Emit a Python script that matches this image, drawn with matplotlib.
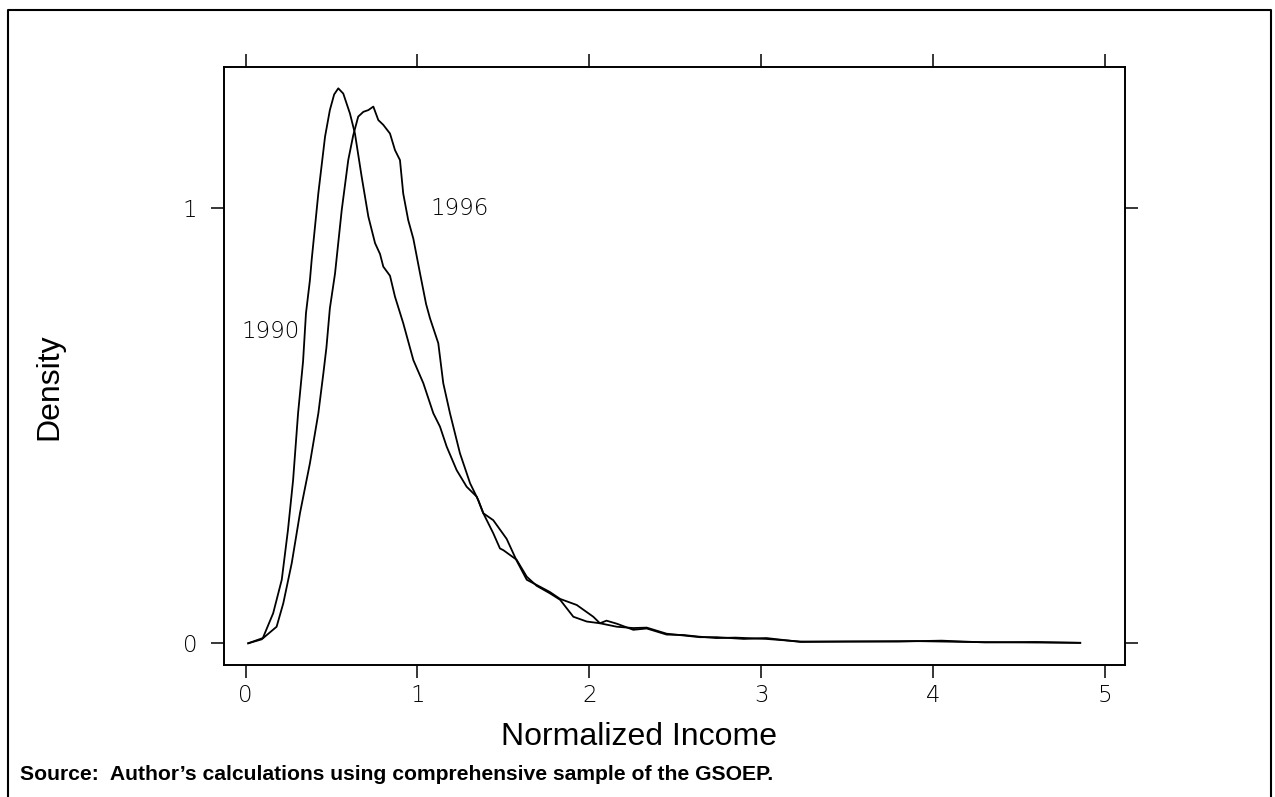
import matplotlib
matplotlib.use('Agg')
import matplotlib.pyplot as plt
from matplotlib.lines import Line2D

# Kernel density of normalized income
x_1990 = [0.015, 0.10, 0.16, 0.21, 0.246, 0.276, 0.305, 0.334, 0.351, 0.374,
          0.384, 0.423, 0.462, 0.49, 0.515, 0.539, 0.568, 0.607, 0.636, 0.675,
          0.714, 0.753, 0.782, 0.801, 0.84, 0.869, 0.917, 0.976, 1.034, 1.092,
          1.131, 1.17, 1.228, 1.286, 1.345, 1.383, 1.441, 1.48, 1.5, 1.577,
          1.636, 1.694, 1.77, 1.83, 1.907, 1.985, 2.062, 2.10, 2.16, 2.256,
          2.334, 2.45, 2.547, 2.644, 2.74, 2.85, 3.03, 3.23, 3.5, 3.9,
          4.2, 4.5, 4.857]
y_1990 = [0.0, 0.012, 0.069, 0.146, 0.26, 0.375, 0.529, 0.648, 0.759, 0.835,
          0.881, 1.035, 1.165, 1.226, 1.262, 1.276, 1.264, 1.218, 1.172, 1.073,
          0.981, 0.920, 0.895, 0.866, 0.845, 0.797, 0.736, 0.651, 0.598, 0.529,
          0.498, 0.452, 0.398, 0.36, 0.337, 0.299, 0.253, 0.218, 0.214, 0.192,
          0.153, 0.132, 0.115, 0.1, 0.061, 0.05, 0.046, 0.052, 0.045, 0.031,
          0.034, 0.020, 0.019, 0.015, 0.012, 0.013, 0.010, 0.004, 0.004, 0.005,
          0.003, 0.002, 0.001]

x_1996 = [0.015, 0.093, 0.18, 0.219, 0.268, 0.316, 0.374, 0.423, 0.452, 0.47,
          0.49, 0.52, 0.559, 0.597, 0.626, 0.655, 0.685, 0.714, 0.743, 0.772,
          0.801, 0.84, 0.869, 0.898, 0.917, 0.946, 0.976, 1.015, 1.05, 1.073,
          1.121, 1.15, 1.189, 1.247, 1.306, 1.354, 1.383, 1.441, 1.519, 1.577,
          1.636, 1.694, 1.77, 1.83, 1.927, 2.023, 2.062, 2.16, 2.256, 2.334,
          2.45, 2.547, 2.644, 2.74, 2.9, 3.03, 3.23, 3.5, 3.8, 4.05,
          4.3, 4.6, 4.857]
y_1996 = [0.0, 0.009, 0.038, 0.092, 0.184, 0.299, 0.414, 0.529, 0.62, 0.68,
          0.77, 0.85, 0.996, 1.111, 1.168, 1.211, 1.222, 1.226, 1.234, 1.203,
          1.192, 1.172, 1.134, 1.111, 1.034, 0.973, 0.93, 0.85, 0.78, 0.747,
          0.69, 0.598, 0.529, 0.437, 0.368, 0.329, 0.299, 0.283, 0.24, 0.19,
          0.146, 0.134, 0.118, 0.102, 0.088, 0.061, 0.046, 0.038, 0.035, 0.036,
          0.022, 0.018, 0.014, 0.014, 0.010, 0.012, 0.003, 0.004, 0.004, 0.006,
          0.002, 0.003, 0.001]

x_ticks = [0, 1, 2, 3, 4, 5]
y_ticks = [0, 1]

label_font = ['Liberation Sans', 'DejaVu Sans']
tick_font = 'DejaVu Sans'

fig = plt.figure(figsize=(12.75, 7.97), dpi=100)
ax = fig.add_axes([0.1757, 0.1656, 0.8824 - 0.1757, 0.9159 - 0.1656])

ax.plot(x_1990, y_1990, color='black', lw=1.3)
ax.plot(x_1996, y_1996, color='black', lw=1.3)

ax.set_xlim(-0.126, 5.118)
ax.set_ylim(-0.05, 1.325)

ax.set_xticks(x_ticks)
ax.set_yticks(y_ticks)
ax.tick_params(direction='out', length=9.4, width=1.1, color='black',
               top=True, right=True, labeltop=False, labelright=False,
               labelsize=16.5)
ax.tick_params(axis='x', pad=4)
ax.tick_params(axis='y', pad=10)
for lab in ax.get_xticklabels() + ax.get_yticklabels():
    lab.set_family(tick_font)
    lab.set_fontweight('light')
for sp in ax.spines.values():
    sp.set_linewidth(1.4)

# curve labels
ax.text(-0.024, 0.716, '1990', fontsize=16.5, family=tick_font, fontweight='light',
        ha='left', va='center')
ax.text(1.073, 1.0, '1996', fontsize=16.5, family=tick_font, fontweight='light',
        ha='left', va='center')

# axis titles placed in figure coordinates
fig.text(639 / 1275, 1 - 737 / 797, 'Normalized Income', fontsize=23,
         family=label_font, ha='center', va='center')
fig.text(49 / 1275, 1 - 387 / 797, 'Density', fontsize=23, family=label_font,
         rotation=90, ha='center', va='center')
fig.text(20 / 1275, 1 - 774 / 797,
         'Source:  Author\u2019s calculations using comprehensive sample of the GSOEP.',
         fontsize=15.2, family=label_font, fontweight='bold', ha='left', va='center')

# outer frame (left, top, right)
x0, x1 = 7.5 / 1275, 1270.5 / 1275
y_top = 1 - 10 / 797
fig.add_artist(Line2D([x0, x0, x1, x1], [0, y_top, y_top, 0],
                      transform=fig.transFigure, color='black', lw=1.5))

fig.savefig('out.png', dpi=100)
